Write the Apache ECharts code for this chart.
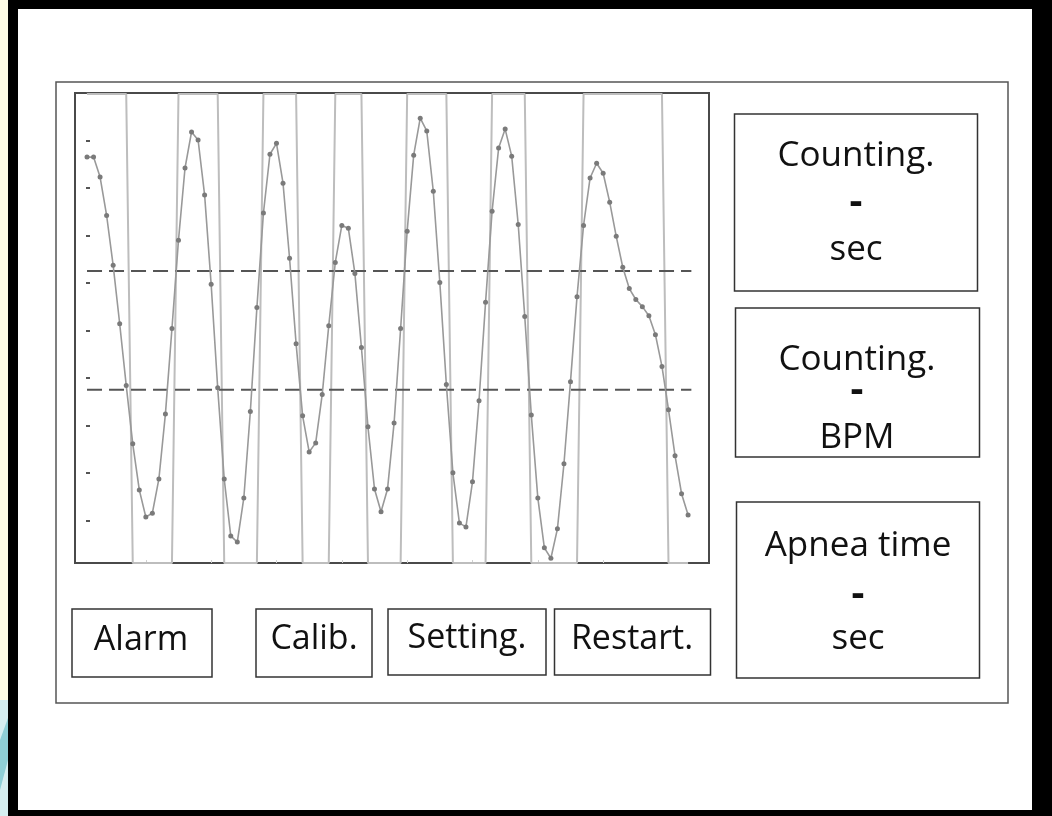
<!DOCTYPE html>
<html>
<head>
<meta charset="utf-8">
<script src="https://cdn.jsdelivr.net/npm/echarts@6/dist/echarts.min.js"></script>
<style>
html,body{margin:0;padding:0;background:#fff;}
#c{width:1052px;height:816px;}
</style>
</head>
<body>
<div id="c"></div>
<script>
// Signal values (axis units 0..10), one per sample 1..93
const signalValues = [
  8.65,8.65,8.23,7.42,6.37,5.14,3.84,2.61,1.64,1.07,
  1.15,1.87,3.24,5.04,6.90,8.42,9.18,9.01,7.85,5.97,
  3.79,1.87,0.67,0.54,1.47,3.29,5.48,7.47,8.71,8.94,
  8.10,6.52,4.72,3.20,2.44,2.63,3.65,5.10,6.43,7.21,
  7.15,6.20,4.64,2.97,1.66,1.18,1.66,3.05,5.04,7.09,
  8.69,9.47,9.20,7.93,6.01,3.86,2.00,0.94,0.86,1.81,
  3.52,5.59,7.51,8.84,9.24,8.67,7.23,5.29,3.22,1.47,
  0.42,0.20,0.82,2.19,3.92,5.71,7.21,8.21,8.52,8.31,
  7.70,6.98,6.33,5.88,5.65,5.50,5.31,4.91,4.24,3.33,
  2.36,1.56,1.11
];
// Breath state (square wave): 1 = high, 0 = low
const breathState = [
  1,1,1,1,1,1,1, 0,0,0,0,0,0,0, 1,1,1,1,1,1,1, 0,0,0,0,0,0,
  1,1,1,1,1,1, 0,0,0,0,0, 1,1,1,1,1, 0,0,0,0,0,0,
  1,1,1,1,1,1,1, 0,0,0,0,0,0, 1,1,1,1,1,1, 0,0,0,0,0,0,0,0,
  1,1,1,1,1,1,1,1,1,1,1,1,1, 0,0,0,0
];
const stateLevels = [0.1, 9.98];     // low, high
const thresholds = [6.25, 3.75];     // dashed lines
const thresholdSpan = [1, 93.5];
const yTicks = [1,2,3,4,5,6,7,8,9,10];
const xTicks = [10,20,30,40,50,60,70,80,90];
const sideBoxes = [
  ['Counting.', '-', 'sec'],
  ['Counting.', '-', 'BPM'],
  ['Apnea time', '-', 'sec']
];
const buttons = ['Alarm', 'Calib.', 'Setting.', 'Restart.'];

const signalData = signalValues.map((v, i) => [i + 1, v]);
const stateData = breathState.map((s, i) => [i + 1, stateLevels[s]]);

const FONT = '"Open Sans", "Noto Sans", sans-serif';
function txt(t, x, y, size, weight) {
  return {
    type: 'text', z: 10,
    style: {
      text: t, x: x, y: y,
      font: (weight || 'normal') + ' ' + size + 'px ' + FONT,
      fill: '#111',
      align: 'center', verticalAlign: 'middle',
      textAlign: 'center', textVerticalAlign: 'middle'
    }
  };
}
function box(x, y, w, h, color, lw) {
  return {
    type: 'rect', z: 1,
    shape: { x: x, y: y, width: w, height: h },
    style: { fill: 'none', stroke: color || '#444', lineWidth: lw || 1.5 }
  };
}

const graphics = [
  // outer black frame & left strip
  { type: 'rect', z: -10, shape: { x: 0, y: 0, width: 1052, height: 816 }, style: { fill: '#000' } },
  { type: 'rect', z: -9, shape: { x: 0, y: 0, width: 8, height: 816 }, style: { fill: '#fdfbe4' } },
  { type: 'rect', z: -9, shape: { x: 0, y: 700, width: 8, height: 116 }, style: { fill: '#d6eef0' } },
  { type: 'polygon', z: -8, shape: { points: [[0,740],[8,718],[8,760],[0,790]] }, style: { fill: '#8fcfd6' } },
  { type: 'rect', z: -8, shape: { x: 18, y: 9, width: 1014, height: 801 }, style: { fill: '#fff' } },
  // inner panel
  box(56, 82, 952, 621, '#555', 1.5),
  // right boxes
  box(734.5, 114, 243, 177, '#333', 1.5),
  box(735.5, 308, 244, 149, '#333', 1.5),
  box(736.5, 502, 243, 176, '#333', 1.5),
  // buttons
  box(72, 609, 140, 68, '#333', 1.5),
  box(256, 609, 116, 68, '#333', 1.5),
  box(388, 609, 158, 66, '#333', 1.5),
  box(554.5, 609, 156, 66, '#333', 1.5)
];
// side box texts
const sideY = [[156, 203, 250], [360, 391, 438], [546, 595, 639]];
const sideX = [856, 857, 858];
sideBoxes.forEach((b, k) => {
  graphics.push(txt(b[0], sideX[k], sideY[k][0], 35));
  graphics.push(txt(b[1], sideX[k], sideY[k][1], 40, 'bold'));
  graphics.push(txt(b[2], sideX[k], sideY[k][2], 35));
});
const btnX = [141, 314, 467, 632];
const btnY = [640, 639, 638, 639];
buttons.forEach((b, k) => graphics.push(txt(b, btnX[k], btnY[k], 34)));

const chart = echarts.init(document.getElementById('c'), null, { renderer: 'canvas' });
chart.setOption({
  animation: false,
  backgroundColor: 'transparent',
  graphic: graphics,
  grid: {
    left: 75, top: 93, width: 634, height: 470,
    show: true, borderColor: '#4a4a4a', borderWidth: 2, backgroundColor: 'transparent'
  },
  xAxis: {
    type: 'value', min: -0.84, max: 96.2,
    axisLine: { show: false },
    splitLine: { show: false },
    axisLabel: { show: false },
    axisTick: { show: true, inside: true, length: 3, customValues: xTicks,
      lineStyle: { color: '#d0d0d0', width: 1 } }
  },
  yAxis: {
    type: 'value', min: 0.1, max: 10, offset: -11,
    axisLine: { show: false },
    splitLine: { show: false },
    axisLabel: { show: false },
    axisTick: { show: true, inside: true, length: 4, customValues: yTicks,
      lineStyle: { color: '#555', width: 2 } }
  },
  series: [
    {
      type: 'line', data: stateData, symbol: 'none', z: 1,
      lineStyle: { color: '#bdbdbd', width: 2 }
    },
    {
      type: 'line', data: thresholdSpan.map(x => [x, thresholds[0]]), symbol: 'none', z: 3,
      lineStyle: { color: '#555', width: 2, type: [15, 7] }
    },
    {
      type: 'line', data: thresholdSpan.map(x => [x, thresholds[1]]), symbol: 'none', z: 3,
      lineStyle: { color: '#555', width: 2, type: [15, 7] }
    },
    {
      type: 'line', data: signalData, z: 4,
      symbol: 'circle', symbolSize: 5, showAllSymbol: true,
      lineStyle: { color: '#999', width: 1.6 },
      itemStyle: { color: '#7a7a7a', borderWidth: 0 }
    }
  ]
});
</script>
</body>
</html>
